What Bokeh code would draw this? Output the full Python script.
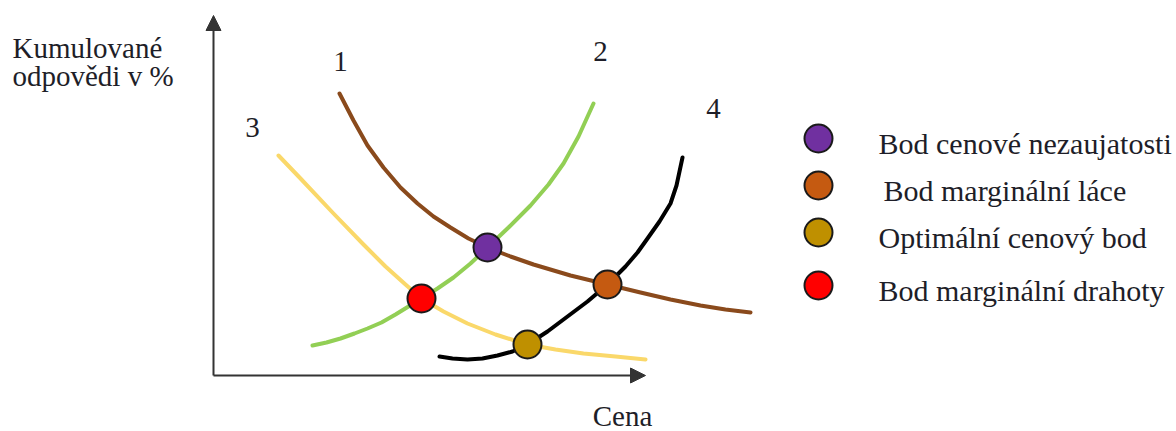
from bokeh.plotting import figure
from bokeh.models import Range1d, Arrow, NormalHead
from bokeh.core.properties import value
from bokeh.embed import file_html
from bokeh.resources import INLINE

# ---------------- data (price units, cumulative share units) ----------------
curve1_price = [12.6, 14.0, 15.4, 17.0, 18.7, 20.4, 22.0, 23.7, 25.5, 27.4, 29.7, 32.0,
                35.7, 39.4, 42.7, 45.7, 48.7, 51.2, 53.7]
curve1_share = [28.2, 25.5, 23.0, 20.8, 18.8, 17.2, 15.9, 14.8, 13.7, 12.8, 11.9, 11.1,
                10.0, 9.1, 8.3, 7.6, 7.0, 6.6, 6.3]

curve2_price = [9.9, 11.3, 12.7, 14.1, 15.4, 16.8, 18.2, 19.5, 20.8, 22.4, 24.0, 25.7,
                27.4, 29.5, 31.7, 33.5, 35.0, 36.5, 38.0]
curve2_share = [3.0, 3.3, 3.7, 4.2, 4.7, 5.3, 6.1, 6.9, 7.7, 8.7, 9.8, 11.2,
                12.8, 14.8, 17.0, 19.1, 21.2, 23.9, 27.2]

curve3_price = [6.5, 8.7, 12.0, 15.0, 17.2, 19.2, 20.8, 23.0, 25.4, 28.2, 31.4, 34.2,
                37.0, 40.2, 43.2]
curve3_share = [22.0, 19.7, 16.2, 13.1, 10.9, 9.1, 7.7, 6.4, 5.2, 4.1, 3.1, 2.6,
                2.2, 1.9, 1.6]

curve4_price = [22.6, 23.9, 25.4, 26.9, 28.4, 29.9, 31.4, 33.4, 35.4, 37.4, 39.4, 41.2,
                42.4, 43.4, 44.6, 45.7, 46.3, 46.9]
curve4_share = [1.9, 1.7, 1.6, 1.7, 2.0, 2.4, 3.1, 4.4, 5.9, 7.4, 9.1, 10.9,
                12.3, 13.7, 15.4, 17.2, 19.0, 21.8]

curve_names = ["1", "2", "3", "4"]
curve_label_price = [12.7, 38.7, 3.9, 50.0]
curve_label_share = [31.4, 32.4, 24.8, 26.7]

point_names = ["Bod cenové nezaujatosti", "Bod marginální láce",
               "Optimální cenový bod", "Bod marginální drahoty"]
point_price = [27.4, 39.4, 31.4, 20.8]
point_share = [12.8, 9.1, 3.1, 7.7]

axis_x_title = "Cena"
axis_y_title = ["Kumulované", "odpovědi v %"]

# ---------------- styles / layout ----------------
curve_colors = ["#8a4a1c", "#92cf55", "#fad86a", "#000000"]
point_colors = ["#7030a0", "#c55a11", "#bf9000", "#ff0000"]
FONT = value("Liberation Serif")
TXT = "#1e1e28"
FS = "29px"

W, H = 1176, 431
p = figure(width=W, height=H, output_backend="svg", toolbar_location=None,
           x_axis_type=None, y_axis_type=None, min_border=0,
           x_range=Range1d(-21.3, 96.3), y_range=Range1d(-5.6, 37.5))
p.grid.visible = False
p.outline_line_color = None
p.background_fill_color = "white"
p.border_fill_color = "white"

# axes with arrow heads
ax_top, ax_right = 36.0, 43.2
for xe, ye in [(0, ax_top), (ax_right, 0)]:
    p.add_layout(Arrow(end=NormalHead(size=15, fill_color="#333333", line_color="#333333", line_width=1),
                       x_start=0, y_start=0, x_end=xe, y_end=ye,
                       line_width=2, line_color="#333333"))

# curves
for xs, ys, c in zip([curve1_price, curve2_price, curve3_price, curve4_price],
                     [curve1_share, curve2_share, curve3_share, curve4_share],
                     curve_colors):
    p.line(xs, ys, line_color=c, line_width=4, line_cap="round", line_join="round")

# curve numbers
p.text(x=curve_label_price, y=curve_label_share, text=curve_names,
       text_font=FONT, text_font_size=FS, text_color=TXT,
       text_align="center", text_baseline="alphabetic")

# points
p.scatter(x=point_price, y=point_share, size=28, fill_color=point_colors,
          line_color="#1a1a1a", line_width=2)

# axis titles
p.text(x=[-20.1, -20.1], y=[32.8, 30.0], text=axis_y_title,
       text_font=FONT, text_font_size=FS, text_color=TXT,
       text_align="left", text_baseline="alphabetic")
p.text(x=[40.9], y=[-4.0], text=[axis_x_title],
       text_font=FONT, text_font_size=FS, text_color=TXT,
       text_align="center", text_baseline="alphabetic")

# legend (manual, to match the marker size of the picture)
legend_marker_x = 60.5
legend_rows = [23.7, 19.0, 14.3, 9.0]
legend_text_x = [66.5, 67.0, 66.5, 66.5]
p.scatter(x=[legend_marker_x] * 4, y=legend_rows, size=28, fill_color=point_colors,
          line_color="#1a1a1a", line_width=2)
p.text(x=legend_text_x, y=[r - 0.5 for r in legend_rows], text=point_names,
       text_font=FONT, text_font_size="30px", text_color=TXT,
       text_align="left", text_baseline="alphabetic")

open("out.html", "w").write(file_html(p, INLINE))
